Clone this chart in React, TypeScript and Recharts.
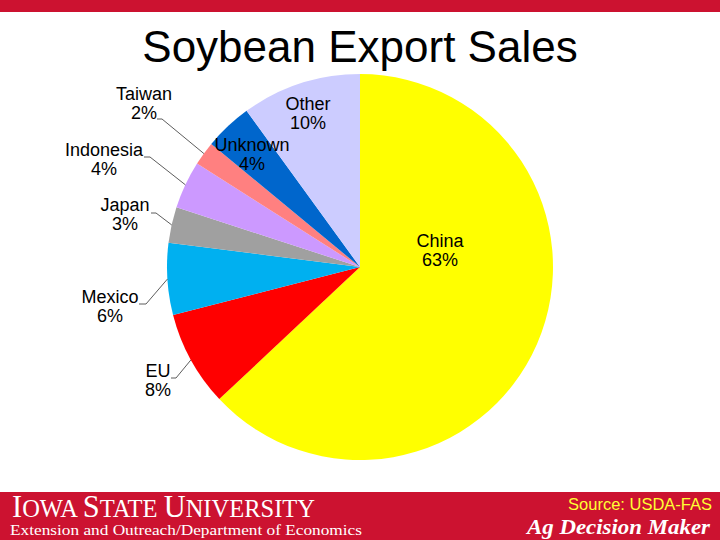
import React from 'react';
import { PieChart, Pie, Cell } from 'recharts';

const COUNTRIES = ['China', 'EU', 'Mexico', 'Japan', 'Indonesia', 'Taiwan', 'Unknown', 'Other'];
const SHARES = [63, 8, 6, 3, 4, 2, 4, 10];
const COLORS = ['#FFFF00', '#FF0000', '#00B0F0', '#A0A0A0', '#CC99FF', '#FF8080', '#0066CC', '#CCCCFF'];

const ISU_RED = '#CC1230';
const FONT = '"Liberation Sans", Arial, sans-serif';
const SERIF = '"Liberation Serif", "Times New Roman", serif';

// label text position (line 1 baseline, centred) relative to pie centre,
// plus the little "_" tick where the leader line starts (outside labels only)
const LABEL_LAYOUT: Record<string, { dx: number; dy: number; tick?: [number, number, number] }> = {
  China: { dx: 80, dy: -20 },
  Other: { dx: -52, dy: -157 },
  Unknown: { dx: -108, dy: -116 },
  Taiwan: { dx: -216, dy: -167, tick: [-203, -198, -148] },
  Indonesia: { dx: -256, dy: -111, tick: [-216, -210, -110] },
  Japan: { dx: -235, dy: -56, tick: [-209, -204, -54] },
  Mexico: { dx: -250, dy: 36, tick: [-221, -214, 37] },
  EU: { dx: -202, dy: 110, tick: [-189, -184, 111] },
};

const data = COUNTRIES.map((name, i) => ({ name, value: SHARES[i] }));

const RAD = Math.PI / 180;

function renderLabel(props: any) {
  const { cx, cy, midAngle, outerRadius, name, value } = props;
  const lay = LABEL_LAYOUT[name];
  if (!lay) return null;
  const tx = cx + lay.dx;
  const ty = cy + lay.dy;
  let leader = null;
  if (lay.tick) {
    const ex = cx + outerRadius * Math.cos(-midAngle * RAD);
    const ey = cy + outerRadius * Math.sin(-midAngle * RAD);
    const [x1, x2, y] = lay.tick;
    leader = (
      <polyline
        points={`${cx + x1},${cy + y} ${cx + x2},${cy + y} ${ex},${ey}`}
        fill="none"
        stroke="#333"
        strokeWidth={0.8}
      />
    );
  }
  return (
    <g key={`lbl-${name}`}>
      {leader}
      <text x={tx} y={ty} textAnchor="middle" fontFamily={FONT} fontSize={18} fill="#000">
        {name}
      </text>
      <text x={tx} y={ty + 19} textAnchor="middle" fontFamily={FONT} fontSize={18} fill="#000">
        {value}%
      </text>
    </g>
  );
}

export default function App() {
  return (
    <div style={{ position: 'absolute', left: 0, top: 0, width: 720, height: 540, background: '#fff', overflow: 'hidden' }}>
      <PieChart width={720} height={540} margin={{ top: 0, right: 0, bottom: 0, left: 0 }}>
        <Pie
          data={data}
          dataKey="value"
          nameKey="name"
          cx={360}
          cy={267}
          outerRadius={193}
          startAngle={90}
          endAngle={-270}
          stroke="none"
          label={renderLabel}
          labelLine={false}
          isAnimationActive={false}
        >
          {data.map((d, i) => (
            <Cell key={d.name} fill={COLORS[i]} />
          ))}
        </Pie>
      </PieChart>

      {/* title, top bar and footer band */}
      <svg width={720} height={540} style={{ position: 'absolute', left: 0, top: 0, pointerEvents: 'none' }}>
        <rect x={0} y={0} width={720} height={12} fill={ISU_RED} />
        <text x={360} y={62} textAnchor="middle" fontFamily={FONT} fontSize={44} fill="#000">
          Soybean Export Sales
        </text>
        <rect x={0} y={492} width={720} height={48} fill={ISU_RED} />
        <text x={12} y={517} fontFamily={SERIF} fill="#fff" textLength={303} lengthAdjust="spacingAndGlyphs">
          <tspan fontSize={31}>I</tspan>
          <tspan fontSize={25}>OWA </tspan>
          <tspan fontSize={31}>S</tspan>
          <tspan fontSize={25}>TATE </tspan>
          <tspan fontSize={31}>U</tspan>
          <tspan fontSize={25}>NIVERSITY</tspan>
        </text>
        <text x={10} y={535} fontFamily={SERIF} fontSize={15} fill="#fff" textLength={352} lengthAdjust="spacingAndGlyphs">
          Extension and Outreach/Department of Economics
        </text>
        <text x={712} y={510} textAnchor="end" fontFamily={FONT} fontSize={16.5} fill="#FFFF33">
          Source: USDA-FAS
        </text>
        <text x={527} y={534} fontFamily={SERIF} fontSize={21} fontStyle="italic" fontWeight="bold" fill="#fff" textLength={183} lengthAdjust="spacingAndGlyphs">
          Ag Decision Maker
        </text>
      </svg>
    </div>
  );
}
